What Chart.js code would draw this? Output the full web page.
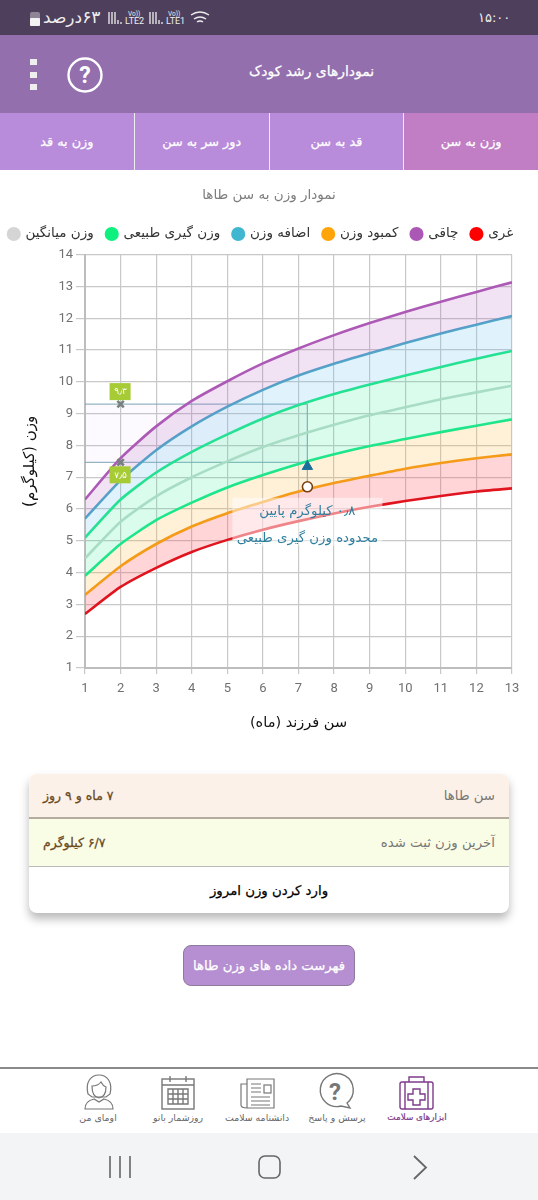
<!DOCTYPE html>
<html lang="fa"><head><meta charset="utf-8">
<script src="https://cdn.jsdelivr.net/npm/chart.js@4/dist/chart.umd.min.js"></script>
<style>
*{box-sizing:border-box}
html,body{margin:0;padding:0;background:#fff;width:538px;height:1200px;overflow:hidden;font-family:"DejaVu Sans",sans-serif}
.a{position:absolute}
.m{-webkit-text-stroke:.25px currentColor}
#status{left:0;top:0;width:538px;height:35px;background:#4e405c;color:#eee}
#head{left:0;top:35px;width:538px;height:78px;background:#946fae;color:#fff}
#tabs{left:0;top:113px;width:538px;height:57px;background:#b98bdb;display:flex;direction:rtl}
#tabs div{flex:1;border-left:1px solid #eee;color:#fff;font-size:12.800px;-webkit-text-stroke:.25px #fff;display:flex;align-items:center;justify-content:center}
#tabs div:first-child{background:#c17ec5}
#tabs div:last-child{border-left:none}
#wrap{left:0;top:170px;width:538px;height:580px}
#card{left:29px;top:774px;width:480px;height:139px;border-radius:8px;background:#fff;box-shadow:0 6px 10px rgba(0,0,0,.28);overflow:hidden;direction:rtl;font-size:13.300px}
.row{display:flex;justify-content:space-between;align-items:center;padding:0 14px}
.row b{font-weight:normal;font-size:12.500px;color:#6b4a1f;-webkit-text-stroke:.3px #6b4a1f}
#btn{left:183px;top:945px;width:172px;height:41px;background:#b58fd1;border:1px solid #8d7a9c;border-radius:8px;color:#fff;font-size:13.200px;-webkit-text-stroke:.25px #fff;display:flex;align-items:center;justify-content:center;direction:rtl;white-space:nowrap}
#nav{left:0;top:1067px;width:538px;height:66px;background:#fff;border-top:2px solid #8a8a8a}
#sys{left:0;top:1133px;width:538px;height:67px;background:#f3f4f6}
.lab{font-size:9.400px;color:#666;transform:translateX(-50%);top:1112px;white-space:nowrap;direction:rtl}
svg{position:absolute;overflow:visible}
</style></head><body>
<div class="a" id="status">
 <span class="a" style="left:43px;top:7px;font-size:17px;direction:rtl;white-space:nowrap">۶۳درصد</span>
 <svg style="left:29px;top:10px" width="12" height="16"><rect x="1" y="2" width="10" height="14" rx="2" fill="#8d8496"/><rect x="1" y="8" width="10" height="8" rx="1" fill="#f2f2f2"/></svg>
 <svg style="left:106px;top:10px" width="105" height="16" fill="none" stroke="#eee">
  <path d="M3 2v12M6 2v12M9 2v12M12 10v4M15 12v2M44 2v12M47 2v12M50 2v12M53 10v4M56 12v2" stroke-width="1.3"/>
  <text x="19" y="14" font-family="Roboto" font-size="9" fill="#eee" stroke="none">LTE2</text><text x="22" y="6" font-family="Roboto" font-size="6.5" fill="#eee" stroke="none">Vo))</text>
  <text x="60" y="14" font-family="Roboto" font-size="9" fill="#eee" stroke="none">LTE1</text><text x="62" y="6" font-family="Roboto" font-size="6.5" fill="#eee" stroke="none">Vo))</text>
  <path d="M85 5q9-6 18 0M88 9q6-4 12 0M91 12q3-2 6 0" stroke-width="1.5"/>
 </svg>
 <span class="a" style="left:478px;top:10px;font-size:13px;white-space:nowrap">۱۵:۰۰</span>
</div>
<div class="a" id="head">
 <svg style="left:30px;top:24px" width="10" height="34"><rect x="0" y="0" width="7" height="6" fill="#eee"/><rect x="0" y="13" width="7" height="6" fill="#eee"/><rect x="0" y="25" width="7" height="6" fill="#eee"/></svg>
 <svg style="left:67px;top:22px" width="36" height="36"><circle cx="18" cy="18" r="16.5" fill="none" stroke="#fff" stroke-width="2.4"/><text x="18" y="26" text-anchor="middle" font-family="Roboto" font-weight="bold" font-size="23" fill="#fff">?</text></svg>
 <span class="a m" style="left:248px;top:28px;width:127px;display:flex;justify-content:center;font-size:13.900px;direction:rtl;white-space:nowrap">نمودارهای رشد کودک</span>
</div>
<div class="a" id="tabs"><div>وزن به سن</div><div>قد به سن</div><div>دور سر به سن</div><div>وزن به قد</div></div>
<div class="a" id="wrap"><canvas id="c" width="538" height="580"></canvas></div>
<div class="a" id="card">
 <div class="row" style="height:45px;background:#fcf1e8;border-bottom:2px solid #b5aca0;color:#777"><span>سن طاها</span><b>۷ ماه و ۹ روز</b></div>
 <div class="row" style="height:48px;background:#fafde6;border-bottom:1px solid #bbb;color:#777"><span>آخرین وزن ثبت شده</span><b>۶/۷ کیلوگرم</b></div>
 <div class="row m" style="height:46px;justify-content:center;color:#000">وارد کردن وزن امروز</div>
</div>
<div class="a" id="btn">فهرست داده های وزن طاها</div>
<div class="a" id="nav"></div>
<svg style="left:399px;top:1075px" width="36" height="36" fill="none" stroke="#7d3b8a" stroke-width="1.4"><rect x="1" y="7" width="33" height="27" rx="2"/><path d="M10 7V2h15v5M6 7v27M29 7v27M14 14h7v5h5v6h-5v5h-7v-5h-5v-6h5z"/></svg>
<svg style="left:318px;top:1074px" width="36" height="36" fill="none" stroke="#777" stroke-width="1.4"><path d="M30 29a16.500 16.500 0 1 0-6 3l9 2z" transform="translate(-1,0)"/><text x="17" y="26" text-anchor="middle" font-family="Roboto" font-weight="bold" font-size="24" fill="#777" stroke="none">?</text></svg>
<svg style="left:240px;top:1076px" width="36" height="34" fill="none" stroke="#777" stroke-width="1.2"><path d="M7 3h27v29H7zM7 8H1v21q0 3 6 3M11 8h10M11 12h10M11 16h10M11 21h19M11 25h19M11 29h19"/><rect x="24" y="9" width="7" height="8"/></svg>
<svg style="left:161px;top:1075px" width="34" height="36" fill="none" stroke="#777" stroke-width="1.4"><rect x="1" y="4" width="32" height="30"/><path d="M1 10h32M9 1v6M25 1v6"/><path d="M7 14h20v15H7zM12 14v15M17 14v15M22 14v15M7 19h20M7 24h20"/></svg>
<svg style="left:84px;top:1074px" width="30" height="36" fill="none" stroke="#777" stroke-width="1.2"><path d="M4 20C1 8 7 1 15 1s14 7 11 19l-4 3H8z"/><path d="M8 12q6 0 9-4 2 4 5 5 0 10-7 11-7-1-7-12z"/><path d="M1 35q0-8 9-10l5 3 5-3q9 2 9 10z"/></svg>
<span class="a lab" style="left:417px;color:#7d3b8a;font-size:8.800px;-webkit-text-stroke:.2px #7d3b8a">ابزارهای سلامت</span>
<span class="a lab" style="left:337px">پرسش و پاسخ</span>
<span class="a lab" style="left:257px">دانشنامه سلامت</span>
<span class="a lab" style="left:178px">روزشمار بانو</span>
<span class="a lab" style="left:98px">اومای من</span>
<div class="a" id="sys"></div>
<svg style="left:108px;top:1155px" width="150" height="26" fill="none" stroke="#666" stroke-width="1.6"><path d="M2 1v22M12 1v22M22 1v22"/><rect x="151" y="1" width="21" height="22" rx="6"/></svg>
<svg style="left:412px;top:1155px" width="16" height="26" fill="none" stroke="#666" stroke-width="1.8"><path d="M2 1l12 11.500L2 24"/></svg>
<script>
const months=[1,2,3,4,5,6,7,8,9,10,11,12,13];
const obese=[6.3,7.6,8.6,9.4,10.02,10.58,11.05,11.47,11.85,12.2,12.52,12.83,13.13];
const overweight=[5.7,6.9,7.85,8.6,9.22,9.75,10.2,10.57,10.9,11.22,11.52,11.8,12.07];
const normalHigh=[5.1,6.3,7.15,7.8,8.35,8.85,9.27,9.62,9.92,10.2,10.47,10.73,10.97];
const average=[4.45,5.6,6.4,7.0,7.5,7.95,8.32,8.65,8.95,9.2,9.45,9.67,9.88];
const normalLow=[3.9,4.9,5.65,6.2,6.68,7.07,7.42,7.72,7.98,8.2,8.42,8.62,8.82];
const underweight=[3.3,4.2,4.9,5.45,5.87,6.22,6.55,6.82,7.05,7.27,7.45,7.6,7.72];
const thin=[2.7,3.55,4.15,4.65,5.03,5.35,5.62,5.86,6.07,6.25,6.41,6.55,6.65];
const childAge=7.25, lastWeight=6.7, rangeLow=7.47, rangeHigh=9.3, refAge=2;
const refLabels=['۹٫۳','۷٫۵'];
const noteLines=['۰٫۸ کیلوگرم پایین','محدوده وزن گیری طبیعی'];
const FA='"DejaVu Sans",sans-serif';
const pts=a=>a.map((y,i)=>({x:months[i],y}));
const curve=(label,data,line,legend,fill)=>({label,data:pts(data),borderColor:line,backgroundColor:legend,borderWidth:2.6,pointRadius:0,tension:.2,fill:fill||false,order:3});
const ds=[
 curve('غری',thin,'#e0141e','#ff0000'),
 curve('چاقی',obese,'#ad5ab6','#ab57b5',{target:3,above:'rgba(172,90,190,.17)',below:'rgba(172,90,190,.17)'}),
 curve('کمبود وزن',underweight,'#f49b18','#ffa50a',{target:0,above:'rgba(255,80,90,.24)',below:'rgba(255,80,90,.24)'}),
 curve('اضافه وزن',overweight,'#4ea8c9','#3fb7d0',{target:4,above:'rgba(100,190,235,.2)',below:'rgba(100,190,235,.2)'}),
 curve('وزن گیری طبیعی',normalHigh,'#1fe58a','#10f07e',{target:6,above:'rgba(30,235,140,.17)',below:'rgba(30,235,140,.17)'}),
 curve('وزن میانگین',average,'#c4d9cf','#d5d5d5'),
 curve('',normalLow,'#1fe58a','#10f07e',{target:2,above:'rgba(255,180,60,.2)',below:'rgba(255,180,60,.2)'}),
 {label:'',data:[{x:1,y:rangeHigh},{x:childAge,y:rangeHigh}],borderColor:'#7da3b4',borderWidth:1,pointRadius:0,fill:{target:8,above:'rgba(190,130,230,.04)',below:'rgba(190,130,230,.04)'},order:4},
 {label:'',data:[{x:1,y:rangeLow},{x:childAge,y:rangeLow}],borderColor:'#7da3b4',borderWidth:1,pointRadius:0,order:4},
 {label:'',data:[{x:childAge,y:rangeHigh},{x:childAge,y:lastWeight}],borderColor:'#8fb2c0',borderWidth:1,pointRadius:0,order:4},
 {label:'',data:[{x:refAge,y:rangeHigh},{x:refAge,y:rangeLow}],showLine:false,pointStyle:'crossRot',pointRadius:4.5,pointBorderWidth:2.6,pointBorderColor:'#77807f',order:1},
 {label:'',data:[{x:childAge,y:rangeLow-.13}],showLine:false,pointStyle:'triangle',pointRadius:6,pointBackgroundColor:'#1a6f9a',pointBorderColor:'#1a6f9a',order:1},
 {label:'',data:[{x:childAge,y:lastWeight}],showLine:false,pointStyle:'circle',pointRadius:5,pointBackgroundColor:'#fff',pointBorderColor:'#7a3f10',pointBorderWidth:1.6,order:0}
];
const notes={id:'notes',
 beforeInit(ch){const f=ch.legend.fit;ch.legend.fit=function(){this.maxWidth=538;f.call(this);this.height+=4;};},
 afterLayout(ch){ch.titleBlock.left+=26;const L=ch.legend;L.left=-9;L.right=531;L.width=540;},
 afterDatasetsDraw(ch){
 const c=ch.ctx,X=ch.scales.x,Y=ch.scales.y;
 c.save();
 const px=X.getPixelForValue(refAge);
 [[rangeHigh,-1],[rangeLow,1]].forEach(([v,d],i)=>{
  const py=Y.getPixelForValue(v);
  const top=d<0?py-21:py+4;
  c.fillStyle='#a6cb35';c.fillRect(px-11,top,21,17);
  c.fillStyle='#fff';c.font='9px '+FA;c.textAlign='center';c.textBaseline='middle';
  c.fillText(refLabels[i],px,top+9);
 });
 const mx=X.getPixelForValue(childAge),my=Y.getPixelForValue(lastWeight);
 c.fillStyle='rgba(255,255,255,.48)';c.fillRect(mx-75,my+11,150,48);
 c.fillStyle='#2f7f9e';c.font='13.3px '+FA;c.textAlign='center';c.textBaseline='middle';
 c.direction='rtl';
 c.fillText(noteLines[0],mx,my+25);c.fillText(noteLines[1],mx,my+52);
 c.restore();
}};
new Chart(document.getElementById('c'),{type:'line',data:{datasets:ds},plugins:[notes],options:{
 responsive:false,animation:false,
 layout:{padding:{left:0,right:26,top:17,bottom:14}},
 plugins:{
  tooltip:{enabled:false},
  title:{display:true,text:'نمودار وزن به سن طاها',color:'#7d7d7d',font:{family:FA,size:13.5,weight:'normal'},padding:{top:0,bottom:11}},
  legend:{position:'top',reverse:true,onClick:null,
   labels:{filter:i=>i.text!=='',usePointStyle:true,pointStyle:'circle',boxWidth:10,boxHeight:10,padding:13,color:'#333',font:{family:FA,size:13.5},
    generateLabels(ch){return Chart.defaults.plugins.legend.labels.generateLabels(ch).map(l=>{l.strokeStyle=l.fillStyle;l.lineWidth=0;return l;});}}}
 },
 scales:{
  x:{type:'linear',min:1,max:13,afterBuildTicks:s=>{s.ticks=months.map(v=>({value:v}));},
   grid:{color:'#c8c8c8',lineWidth:1.2,tickLength:6,drawTicks:true},border:{color:'#bdbdbd',width:2},
   ticks:{color:'#707070',font:{family:'Roboto',size:13},maxRotation:0,autoSkip:false,padding:7},
   title:{display:true,text:'سن فرزند (ماه)',color:'#111',font:{family:FA,size:14.5},padding:{top:11}}},
  y:{min:1,max:14,afterFit:s=>{s.width=85;},
   grid:{color:'#c8c8c8',lineWidth:1.2,tickLength:9},border:{color:'#bdbdbd',width:2},
   ticks:{stepSize:1,color:'#707070',font:{family:'Roboto',size:13},padding:3},
   title:{display:true,text:'وزن (کیلوگرم)',color:'#111',font:{family:FA,size:15},padding:{top:21,bottom:0}}}
 }
}});
</script>
</body></html>
